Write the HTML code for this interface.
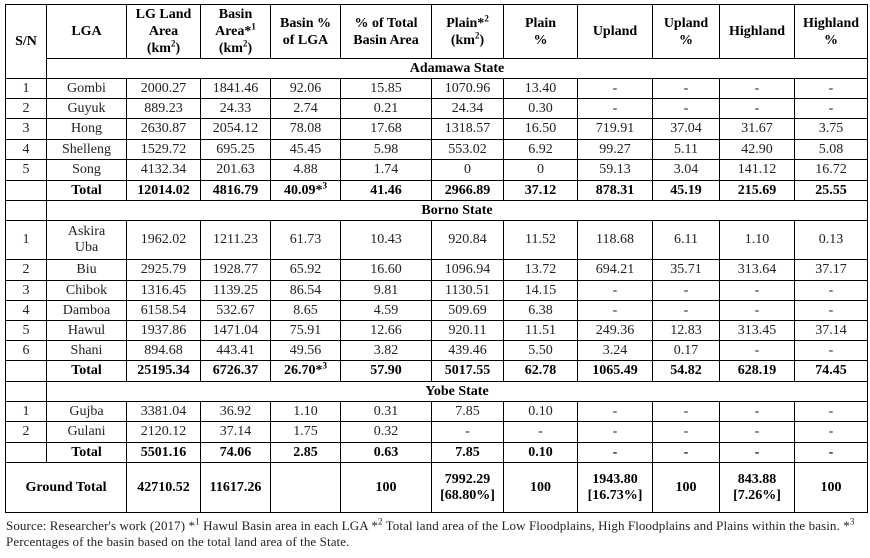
<!DOCTYPE html>
<html><head><meta charset="utf-8"><style>
html,body{margin:0;padding:0;background:#fff;width:870px;height:558px;overflow:hidden}
table{position:absolute;left:5px;top:4px;border-collapse:collapse;table-layout:fixed;width:863px;font-family:"Liberation Serif",serif;font-size:14px;color:#000}
td{border:1px solid #000;text-align:center;padding:0;line-height:16px;vertical-align:middle;color:#222;white-space:nowrap;overflow:hidden}
.h td{font-weight:bold;color:#000;font-size:14px;line-height:17px}
.b td{font-weight:bold;color:#000}
td.st{font-weight:bold;color:#000}
sup{font-size:9px;line-height:0}
.foot{position:absolute;left:6px;top:518px;width:862px;font-family:"Liberation Serif",serif;font-size:13px;letter-spacing:0.1px;line-height:16px;color:#222}
</style></head><body>
<table>
<colgroup><col style="width:41px"><col style="width:80px"><col style="width:74px"><col style="width:70px"><col style="width:70px"><col style="width:91px"><col style="width:72px"><col style="width:74px"><col style="width:75px"><col style="width:67px"><col style="width:75px"><col style="width:73px"></colgroup>
<tr class="h" style="height:54px"><td rowspan="2">S/N</td><td>LGA</td><td>LG Land<br>Area<br>(km<sup>2</sup>)</td><td>Basin<br>Area*<sup>1</sup><br>(km<sup>2</sup>)</td><td>Basin %<br>of LGA</td><td>% of Total<br>Basin Area</td><td>Plain*<sup>2</sup><br>(km<sup>2</sup>)</td><td>Plain<br>%</td><td>Upland</td><td>Upland<br>%</td><td>Highland</td><td>Highland<br>%</td></tr>
<tr style="height:20px"><td colspan="11" class="st">Adamawa State</td></tr>
<tr style="height:20px"><td>1</td><td>Gombi</td><td>2000.27</td><td>1841.46</td><td>92.06</td><td>15.85</td><td>1070.96</td><td>13.40</td><td>-</td><td>-</td><td>-</td><td>-</td></tr>
<tr style="height:20px"><td>2</td><td>Guyuk</td><td>889.23</td><td>24.33</td><td>2.74</td><td>0.21</td><td>24.34</td><td>0.30</td><td>-</td><td>-</td><td>-</td><td>-</td></tr>
<tr style="height:21px"><td>3</td><td>Hong</td><td>2630.87</td><td>2054.12</td><td>78.08</td><td>17.68</td><td>1318.57</td><td>16.50</td><td>719.91</td><td>37.04</td><td>31.67</td><td>3.75</td></tr>
<tr style="height:20px"><td>4</td><td>Shelleng</td><td>1529.72</td><td>695.25</td><td>45.45</td><td>5.98</td><td>553.02</td><td>6.92</td><td>99.27</td><td>5.11</td><td>42.90</td><td>5.08</td></tr>
<tr style="height:21px"><td>5</td><td>Song</td><td>4132.34</td><td>201.63</td><td>4.88</td><td>1.74</td><td>0</td><td>0</td><td>59.13</td><td>3.04</td><td>141.12</td><td>16.72</td></tr>
<tr class="b" style="height:20px"><td></td><td>Total</td><td>12014.02</td><td>4816.79</td><td>40.09*<sup>3</sup></td><td>41.46</td><td>2966.89</td><td>37.12</td><td>878.31</td><td>45.19</td><td>215.69</td><td>25.55</td></tr>
<tr style="height:20px"><td></td><td colspan="11" class="st">Borno State</td></tr>
<tr style="height:39px"><td>1</td><td>Askira<br>Uba</td><td>1962.02</td><td>1211.23</td><td>61.73</td><td>10.43</td><td>920.84</td><td>11.52</td><td>118.68</td><td>6.11</td><td>1.10</td><td>0.13</td></tr>
<tr style="height:21px"><td>2</td><td>Biu</td><td>2925.79</td><td>1928.77</td><td>65.92</td><td>16.60</td><td>1096.94</td><td>13.72</td><td>694.21</td><td>35.71</td><td>313.64</td><td>37.17</td></tr>
<tr style="height:20px"><td>3</td><td>Chibok</td><td>1316.45</td><td>1139.25</td><td>86.54</td><td>9.81</td><td>1130.51</td><td>14.15</td><td>-</td><td>-</td><td>-</td><td>-</td></tr>
<tr style="height:20px"><td>4</td><td>Damboa</td><td>6158.54</td><td>532.67</td><td>8.65</td><td>4.59</td><td>509.69</td><td>6.38</td><td>-</td><td>-</td><td>-</td><td>-</td></tr>
<tr style="height:20px"><td>5</td><td>Hawul</td><td>1937.86</td><td>1471.04</td><td>75.91</td><td>12.66</td><td>920.11</td><td>11.51</td><td>249.36</td><td>12.83</td><td>313.45</td><td>37.14</td></tr>
<tr style="height:20px"><td>6</td><td>Shani</td><td>894.68</td><td>443.41</td><td>49.56</td><td>3.82</td><td>439.46</td><td>5.50</td><td>3.24</td><td>0.17</td><td>-</td><td>-</td></tr>
<tr class="b" style="height:21px"><td></td><td>Total</td><td>25195.34</td><td>6726.37</td><td>26.70*<sup>3</sup></td><td>57.90</td><td>5017.55</td><td>62.78</td><td>1065.49</td><td>54.82</td><td>628.19</td><td>74.45</td></tr>
<tr style="height:20px"><td></td><td colspan="11" class="st">Yobe State</td></tr>
<tr style="height:20px"><td>1</td><td>Gujba</td><td>3381.04</td><td>36.92</td><td>1.10</td><td>0.31</td><td>7.85</td><td>0.10</td><td>-</td><td>-</td><td>-</td><td>-</td></tr>
<tr style="height:21px"><td>2</td><td>Gulani</td><td>2120.12</td><td>37.14</td><td>1.75</td><td>0.32</td><td>-</td><td>-</td><td>-</td><td>-</td><td>-</td><td>-</td></tr>
<tr class="b" style="height:20px"><td></td><td>Total</td><td>5501.16</td><td>74.06</td><td>2.85</td><td>0.63</td><td>7.85</td><td>0.10</td><td>-</td><td>-</td><td>-</td><td>-</td></tr>
<tr class="b" style="height:50px"><td colspan="2">Ground Total</td><td>42710.52</td><td>11617.26</td><td></td><td>100</td><td>7992.29<br>[68.80%]</td><td>100</td><td>1943.80<br>[16.73%]</td><td>100</td><td>843.88<br>[7.26%]</td><td>100</td></tr>
</table>
<div class="foot">Source: Researcher's work (2017) *<sup>1</sup> Hawul Basin area in each LGA *<sup>2</sup> Total land area of the Low Floodplains, High Floodplains and Plains within the basin. *<sup>3</sup><br>Percentages of the basin based on the total land area of the State.</div>
</body></html>
